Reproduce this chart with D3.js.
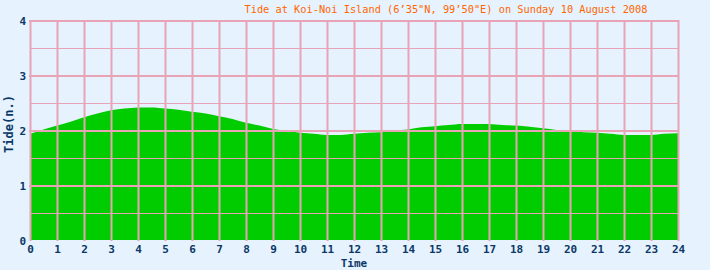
<!DOCTYPE html>
<html>
<head>
<meta charset="utf-8">
<script src="https://cdn.jsdelivr.net/npm/d3@7"></script>
<style>
html,body{margin:0;padding:0;background:#e6f2fd;}
svg{display:block;}
</style>
</head>
<body>
<svg id="chart" width="710" height="270"></svg>
<script>
const titleText = "Tide at Koi-Noi Island (6\u201935\"N, 99\u201950\"E) on Sunday 10 August 2008";
const hours = [0,0.5,1,1.5,2,2.5,3,3.5,4,4.5,5,5.5,6,6.5,7,7.5,8,8.5,9,9.5,10,10.5,11,11.5,12,12.5,13,13.5,14,14.5,15,15.5,16,16.5,17,17.5,18,18.5,19,19.5,20,20.5,21,21.5,22,22.5,23,23.5,24];
const tide = [1.93,2.01,2.08,2.15,2.23,2.30,2.36,2.39,2.41,2.41,2.39,2.37,2.33,2.30,2.25,2.20,2.13,2.08,2.02,1.99,1.95,1.93,1.91,1.91,1.93,1.95,1.96,1.99,2.01,2.05,2.07,2.09,2.11,2.11,2.11,2.09,2.08,2.06,2.03,2.00,1.98,1.96,1.95,1.93,1.91,1.91,1.91,1.93,1.94];
const xTicks = d3.range(0,25);
const yTicks = [0,1,2,3,4];
const yMinor = [0.5,1.5,2.5,3.5];

const svg = d3.select("#chart");
const mLeft = 30, mRight = 678, mTop = 20, mBottom = 240;
const x = d3.scaleLinear().domain([0,24]).range([mLeft,mRight]);
const y = d3.scaleLinear().domain([0,4]).range([mBottom,mTop]);

const pink = "#e8a4b6";
const textCol = "#0b3768";
const fontFam = "DejaVu Sans Mono, monospace";

svg.append("rect").attr("width",710).attr("height",270).attr("fill","#e6f2fd");

const data = hours.map((h,i)=>({h, v:tide[i]}));
const area = d3.area().x(d=>x(d.h)).y0(y(0)).y1(d=>y(d.v)).curve(d3.curveMonotoneX);
svg.append("path").datum(data).attr("d",area).attr("fill","#00cc00");

// minor horizontal grid
svg.append("g").selectAll("line").data(yMinor).join("line")
  .attr("x1",mLeft).attr("x2",mRight)
  .attr("y1",d=>Math.round(y(d))+0.5).attr("y2",d=>Math.round(y(d))+0.5)
  .attr("stroke",pink).attr("stroke-width",1);
// major horizontal grid (skip 0)
svg.append("g").selectAll("line").data(yTicks.filter(d=>d>0)).join("line")
  .attr("x1",mLeft-1).attr("x2",mRight+1)
  .attr("y1",d=>Math.round(y(d))+1).attr("y2",d=>Math.round(y(d))+1)
  .attr("stroke",pink).attr("stroke-width",2);
// vertical grid
svg.append("g").selectAll("line").data(xTicks).join("line")
  .attr("x1",d=>Math.round(x(d))+0.5).attr("x2",d=>Math.round(x(d))+0.5)
  .attr("y1",mTop).attr("y2",mBottom+1)
  .attr("stroke",pink).attr("stroke-width",2);

const xAxis = d3.axisBottom(x).tickValues(xTicks).tickSize(0).tickPadding(0).tickFormat(d3.format("d"));
const gx = svg.append("g").attr("transform",`translate(0,${mBottom})`).call(xAxis);
gx.select(".domain").remove();
gx.selectAll("text").attr("dy",null).attr("y",13)
  .attr("fill",textCol).attr("font-family",fontFam)
  .attr("font-weight","bold").attr("font-size","11px");

const yAxis = d3.axisLeft(y).tickValues(yTicks).tickSize(0).tickPadding(0).tickFormat(d3.format("d"));
const gy = svg.append("g").attr("transform",`translate(${mLeft-4},1)`).call(yAxis);
gy.select(".domain").remove();
gy.selectAll("text").attr("dy","0.35em")
  .attr("fill",textCol).attr("font-family",fontFam)
  .attr("font-weight","bold").attr("font-size","11px");

svg.append("text").attr("x",354).attr("y",267).attr("text-anchor","middle")
  .attr("fill",textCol).attr("font-family",fontFam)
  .attr("font-weight","bold").attr("font-size","11px").text("Time");

svg.append("text").attr("transform","translate(13,124) rotate(-90)").attr("text-anchor","middle")
  .attr("fill",textCol).attr("font-family",fontFam)
  .attr("font-weight","bold").attr("font-size","12px").text("Tide(n.)");

svg.append("text").attr("x",446).attr("y",13).attr("text-anchor","middle")
  .attr("fill","#ff6600").attr("font-family",fontFam)
  .attr("font-size","10.3px").text(titleText);
</script>
</body>
</html>
